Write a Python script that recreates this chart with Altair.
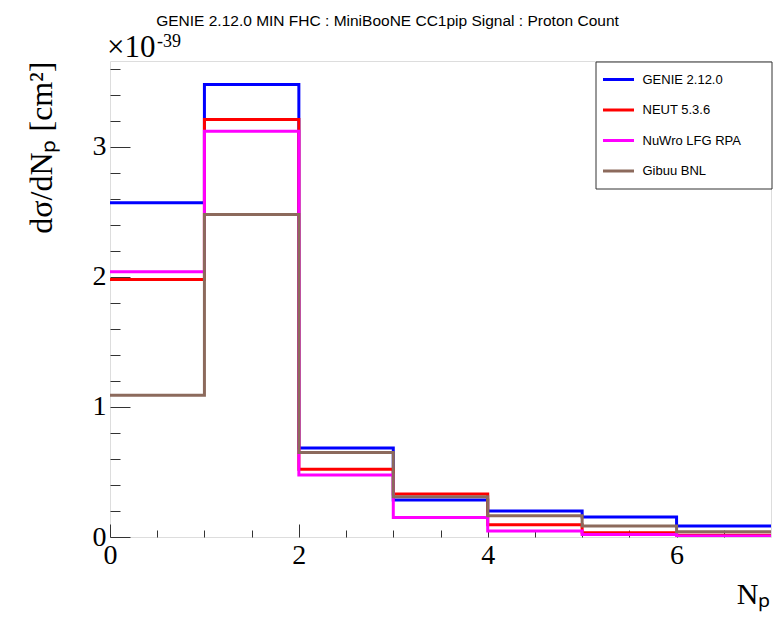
import altair as alt
import pandas as pd

# ---- data ----
edges = [0, 1, 2, 3, 4, 5, 6, 7]
series = ["GENIE 2.12.0", "NEUT 5.3.6", "NuWro LFG RPA", "Gibuu BNL"]
colors = ["#0000ff", "#ff0000", "#ff00ff", "#8c6a5c"]
genie = [2.57, 3.48, 0.685, 0.285, 0.200, 0.153, 0.084]
neut = [1.98, 3.21, 0.520, 0.330, 0.095, 0.033, 0.013]
nuwro = [2.04, 3.12, 0.477, 0.150, 0.046, 0.020, 0.008]
gibuu = [1.09, 2.48, 0.650, 0.310, 0.164, 0.084, 0.040]

x_major = [0, 2, 4, 6]
x_minor = [0.5, 1, 1.5, 2.5, 3, 3.5, 4.5, 5, 5.5, 6.5]
y_major = [0, 1, 2, 3]
y_minor = [0.2, 0.4, 0.6, 0.8, 1.2, 1.4, 1.6, 1.8, 2.2, 2.4, 2.6, 2.8, 3.2, 3.4, 3.6]

title_text = "GENIE 2.12.0 MIN FHC : MiniBooNE CC1pip Signal : Proton Count"

rows = []
for name, vals in zip(series, [genie, neut, nuwro, gibuu]):
    for i, v in enumerate(vals):
        rows.append({"series": name, "x": edges[i], "y": v})
    rows.append({"series": name, "x": edges[-1], "y": vals[-1]})
df = pd.DataFrame(rows)

SERIF = "Liberation Serif"
SANS = "Liberation Sans"

xscale = alt.Scale(domain=[0, 7], nice=False, zero=False)
yscale = alt.Scale(domain=[0, 3.66], nice=False, zero=False)

base = alt.Chart(df)

lines = base.mark_line(interpolate="step-after", strokeWidth=3, clip=True).encode(
    x=alt.X("x:Q", scale=xscale, axis=alt.Axis(
        orient="bottom", values=x_major, tickSize=13, offset=-13, domain=False, grid=False,
        tickColor="#333", tickWidth=1, labelFont=SERIF, labelFontSize=28, labelColor="black",
        labelPadding=4, labelFlush=False, labelOverlap=False, format="d",
        title="Nₚ", titleFont=SERIF, titleFontSize=30, titleFontWeight="normal", titleColor="black",
        titleAlign="right", titleAnchor="end", titleX=660, titleY=79, titleBaseline="alphabetic")),
    y=alt.Y("y:Q", scale=yscale, axis=alt.Axis(
        orient="left", values=y_major, tickSize=20, offset=-20, domain=False, grid=False,
        tickColor="#333", tickWidth=1, labelFont=SERIF, labelFontSize=28, labelColor="black",
        labelPadding=4, labelFlush=False, labelOverlap=False, format="d",
        title="dσ/dNₚ [cm²]", titleFont=SERIF, titleFontSize=32, titleFontWeight="normal",
        titleColor="black", titleAnchor="end", titlePadding=34)),
    color=alt.Color("series:N", sort=series, scale=alt.Scale(domain=series, range=colors),
                    legend=alt.Legend(orient="none", legendX=491.5, legendY=1.5, title=None,
                                      symbolType="stroke", symbolSize=961, symbolStrokeWidth=3,
                                      labelFont=SANS, labelFontSize=13, labelColor="black",
                                      labelOffset=7, padding=0, rowPadding=6.5)),
)

minor = base.mark_line(opacity=0).encode(
    x=alt.X("x:Q", scale=xscale, axis=alt.Axis(
        orient="bottom", values=x_minor, tickSize=7, offset=-7, domain=False, grid=False,
        labels=False, title=None, tickColor="#333", tickWidth=1)),
    y=alt.Y("y:Q", scale=yscale, axis=alt.Axis(
        orient="left", values=y_minor, tickSize=10, offset=-10, domain=False, grid=False,
        labels=False, title=None, tickColor="#333", tickWidth=1)),
)

one = alt.Data(values=[{"k": 1}])

legend_box = alt.Chart(one).mark_rect(fill="white", stroke="#333", strokeWidth=1).encode(
    x=alt.value(486), x2=alt.value(662), y=alt.value(1), y2=alt.value(128))

exp_base = alt.Chart(one).mark_text(text="×10", font=SERIF, fontSize=31, align="left",
                                     baseline="alphabetic", color="black").encode(
    x=alt.value(-3), y=alt.value(-4))
exp_pow = alt.Chart(one).mark_text(text="-39", font=SERIF, fontSize=18, align="left",
                                    baseline="alphabetic", color="black").encode(
    x=alt.value(47), y=alt.value(-14))

chart = alt.layer(minor, lines, legend_box, exp_base, exp_pow).resolve_axis(
    x="independent", y="independent"
).properties(
    width=661, height=476,
    title=alt.Title(title_text, font=SANS, fontSize=15.5, fontWeight="normal", color="black",
                    anchor="middle", dx=-53, dy=13, offset=4, baseline="alphabetic"),
    autosize=alt.AutoSizeParams(type="none"),
    padding={"left": 110, "top": 61, "right": 3, "bottom": 81},
).configure_view(stroke="#333", strokeWidth=1).configure(background="white")

chart.save("out.html", embed_options={"renderer": "svg", "actions": False})
